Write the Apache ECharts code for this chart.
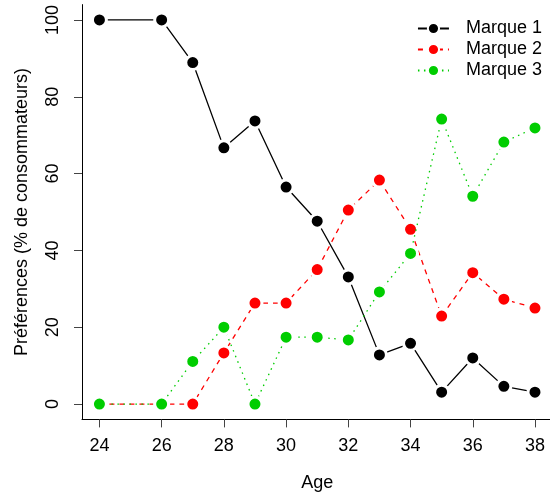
<!DOCTYPE html>
<html>
<head>
<meta charset="utf-8">
<script src="https://cdn.jsdelivr.net/npm/echarts@6/dist/echarts.min.js"></script>
<style>
  html, body { margin: 0; padding: 0; background: #fff; }
  #chart { width: 550px; height: 493px; }
</style>
</head>
<body>
<div id="chart"></div>
<script>
// Ages surveyed (no group at 25)
const ages = [24, 26, 27, 28, 29, 30, 31, 32, 33, 34, 35, 36, 37, 38];
// Share of consumers preferring each brand (%)
const marque1 = [100, 100, 88.9, 66.7, 73.7, 56.5, 47.6, 33.1, 12.8, 15.8, 3.1, 12.0, 4.6, 3.1];
const marque2 = [0, 0, 0, 13.3, 26.3, 26.3, 35.0, 50.5, 58.3, 45.5, 22.9, 34.2, 27.3, 25.0];
const marque3 = [0, 0, 11.1, 20.0, 0, 17.4, 17.4, 16.7, 29.2, 39.2, 74.2, 54.1, 68.2, 71.9];
const seriesNames = ['Marque 1', 'Marque 2', 'Marque 3'];
const xTicks = [24, 26, 28, 30, 32, 34, 36, 38];
const yTicks = [0, 20, 40, 60, 80, 100];

const FONT = '"Liberation Sans", Arial, sans-serif';
const colors = ['#000000', '#FF0000', '#00CD00'];
const lineTypes = ['solid', [5, 5], [1.5, 4.5]];
const values = [marque1, marque2, marque3];

const chart = echarts.init(document.getElementById('chart'), null, { renderer: 'canvas' });

const series = values.map((vals, i) => ({
  name: seriesNames[i],
  type: 'line',
  data: ages.map((a, j) => [a, vals[j]]),
  symbol: 'circle',
  symbolSize: 14,
  itemStyle: { color: colors[i], borderColor: '#ffffff', borderWidth: 3 },
  lineStyle: { color: colors[i], width: 1.3, type: lineTypes[i] },
  emphasis: { disabled: true },
  animation: false,
  z: 2 + i
}));

const axisText = { color: '#000', fontFamily: FONT, fontSize: 18 };

chart.setOption({
  animation: false,
  grid: {
    left: 82, top: 4.6, width: 470.4, height: 414.8,
    containLabel: false,
    outerBoundsMode: 'none'
  },
  legend: {
    right: 3,
    top: 13,
    orient: 'vertical',
    itemWidth: 31,
    itemHeight: 14,
    itemGap: 0,
    textStyle: { color: '#000', fontFamily: FONT, fontSize: 18, lineHeight: 21, padding: [0, 0, 0, 12] },
    data: seriesNames
  },
  xAxis: {
    type: 'value',
    min: 23.44,
    max: 38.56,
    name: 'Age',
    nameLocation: 'middle',
    nameGap: 55,
    nameTextStyle: axisText,
    axisLine: { show: true, onZero: false, lineStyle: { color: '#000', width: 1 } },
    axisTick: { show: true, length: 8, inside: false, customValues: xTicks, lineStyle: { color: '#444' } },
    axisLabel: { show: true, customValues: xTicks, margin: 18, ...axisText },
    splitLine: { show: false }
  },
  yAxis: {
    type: 'value',
    min: -4,
    max: 104,
    name: 'Préférences (% de consommateurs)',
    nameLocation: 'middle',
    nameGap: 51,
    nameRotate: 90,
    nameTextStyle: axisText,
    axisLine: { show: true, onZero: false, lineStyle: { color: '#000', width: 1 } },
    axisTick: { show: true, length: 8, inside: false, customValues: yTicks, lineStyle: { color: '#444' } },
    axisLabel: { show: true, customValues: yTicks, rotate: 90, margin: 20, ...axisText },
    splitLine: { show: false }
  },
  series: series
});
</script>
</body>
</html>
